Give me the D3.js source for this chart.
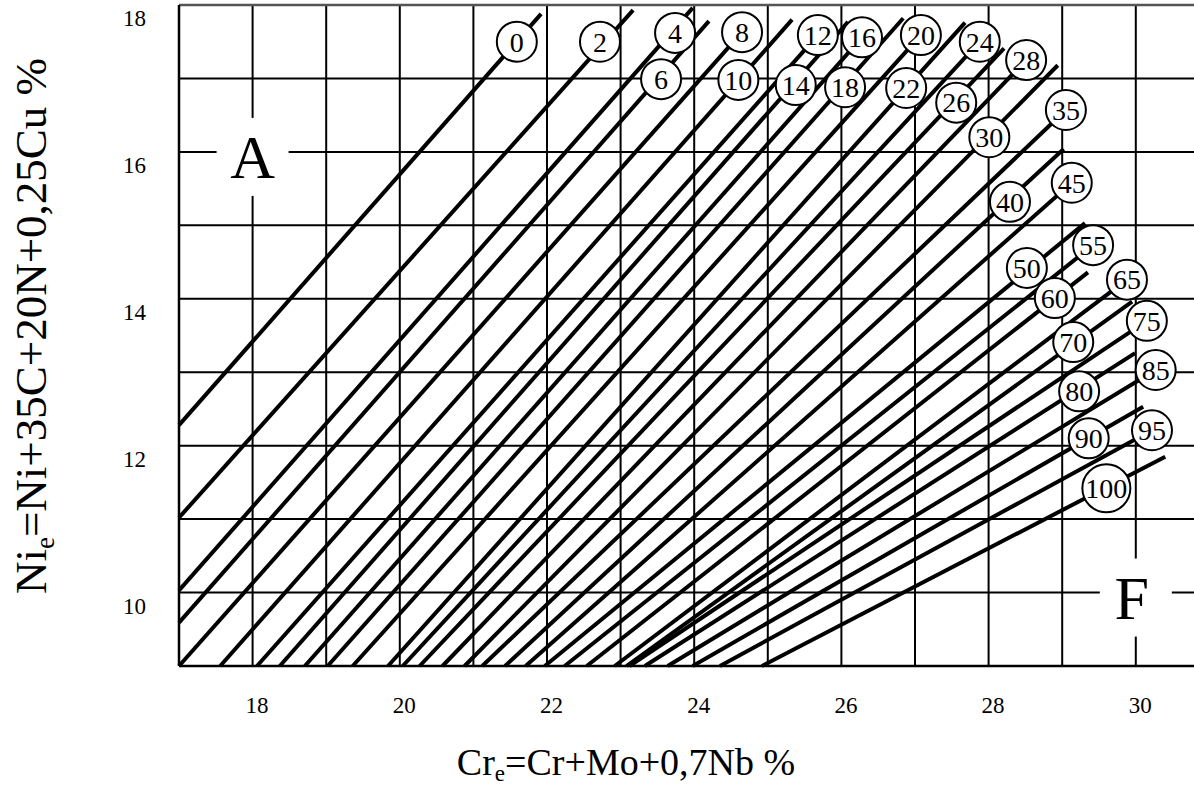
<!DOCTYPE html>
<html>
<head>
<meta charset="utf-8">
<script src="https://cdn.jsdelivr.net/npm/d3@7"></script>
<style>
body { margin: 0; background: #fff; }
svg { display: block; }
</style>
</head>
<body>
<script>
var w = 1194; // Width of the page
var h = 786;  // Height of the page
var serif = "'Liberation Serif', 'Times New Roman', serif";

// Ferrite lines: label, start and end points in data units, label circle position
var lineLabels = [0, 2, 4, 6, 8, 10, 12, 14, 16, 18, 20, 22, 24, 26, 28, 30, 35, 40, 45, 50, 55, 60, 65, 70, 75, 80, 85, 90, 95, 100];
var startX = [17, 17, 17, 17, 17, 17.56, 18.06, 18.37, 18.71, 19.02, 19.36, 19.84, 20.04, 20.27, 20.58, 20.88, 21.12, 21.43, 21.71, 21.97, 22.24, 22.54, 22.92, 23.08, 23.12, 23.33, 23.64, 23.98, 24.35, 24.92];
var startY = [12.28, 11.02, 10.03, 9.59, 9, 9, 9, 9, 9, 9, 9, 9, 9, 9, 9, 9, 9, 9, 9, 9, 9, 9, 9, 9, 9, 9, 9, 9, 9, 9];
var endX = [21.92, 23.17, 23.98, 24.20, 24.65, 25.33, 25.68, 26.09, 26.28, 26.84, 27.08, 27.68, 27.88, 28.21, 28.51, 28.94, 29.05, 29.02, 29.13, 29.31, 29.42, 29.35, 29.88, 29.95, 30.15, 29.99, 30.27, 30.10, 30.22, 30.40];
var endY = [17.88, 17.93, 17.96, 17.78, 17.63, 17.80, 17.59, 17.77, 17.56, 17.82, 17.59, 17.76, 17.50, 17.41, 17.25, 17.18, 16.57, 16.04, 15.58, 15.03, 14.73, 14.36, 14.26, 13.96, 13.70, 13.26, 13.03, 12.53, 12.21, 11.85];
var labelX = [21.59, 22.72, 23.74, 23.55, 24.65, 24.60, 25.68, 25.38, 26.28, 26.05, 27.08, 26.88, 27.88, 27.56, 28.51, 28.01, 29.05, 28.29, 29.13, 28.52, 29.42, 28.90, 29.88, 29.15, 30.15, 29.23, 30.27, 29.36, 30.22, 29.60];
var labelY = [17.50, 17.50, 17.62, 16.99, 17.63, 16.98, 17.59, 16.91, 17.56, 16.88, 17.59, 16.87, 17.50, 16.67, 17.25, 16.20, 16.57, 15.32, 15.58, 14.42, 14.73, 14.01, 14.26, 13.41, 13.70, 12.74, 13.03, 12.10, 12.21, 11.42];

// Phase regions
var zoneNames = ["A", "F"];
var zoneX = [18, 30];
var zoneY = [16, 10];

// Tick labels
var xTicks = [18, 20, 22, 24, 26, 28, 30];
var yTicks = [10, 12, 14, 16, 18];

// Scales
var xScale = d3.scaleLinear()
    .domain([17, 31])
    .range([179, 179 + 14 * 73.6]);

var yScale = d3.scaleLinear()
    .domain([9, 18])
    .range([666, 5]);

var svg = d3.select("body")
    .append("svg")
    .attr("width", w)
    .attr("height", h)
    .style("font-family", serif);

// Grid lines
var grid = svg.append("g")
    .attr("stroke", "#000")
    .attr("stroke-width", 2);

grid.selectAll("line.v")
    .data(d3.range(18, 31))
    .join("line")
    .attr("class", "v")
    .attr("x1", function(d) { return xScale(d); })
    .attr("x2", function(d) { return xScale(d); })
    .attr("y1", yScale(18))
    .attr("y2", yScale(9));

grid.selectAll("line.h")
    .data(d3.range(10, 18))
    .join("line")
    .attr("class", "h")
    .attr("x1", xScale(17))
    .attr("x2", w)
    .attr("y1", function(d) { return yScale(d); })
    .attr("y2", function(d) { return yScale(d); });

// Frame
svg.append("line")
    .attr("x1", xScale(17)).attr("x2", w)
    .attr("y1", yScale(18)).attr("y2", yScale(18))
    .attr("stroke", "#555").attr("stroke-width", 2.5);
svg.append("line")
    .attr("x1", xScale(17)).attr("x2", w)
    .attr("y1", yScale(9)).attr("y2", yScale(9))
    .attr("stroke", "#000").attr("stroke-width", 2.5);
svg.append("line")
    .attr("x1", xScale(17)).attr("x2", xScale(17))
    .attr("y1", yScale(18)).attr("y2", yScale(9))
    .attr("stroke", "#000").attr("stroke-width", 2.5);

// Region letters with white boxes breaking the grid
var zones = svg.append("g");
zones.selectAll("rect")
    .data(zoneNames)
    .join("rect")
    .attr("x", function(d, i) { return xScale(zoneX[i]) - 36; })
    .attr("y", function(d, i) { return yScale(zoneY[i]) - 34; })
    .attr("width", 72)
    .attr("height", 78)
    .attr("fill", "#fff");
zones.selectAll("text")
    .data(zoneNames)
    .join("text")
    .attr("x", function(d, i) { return xScale(zoneX[i]) - (i ? 4 : 0); })
    .attr("y", function(d, i) { return yScale(zoneY[i]) + 26; })
    .attr("text-anchor", "middle")
    .attr("font-size", 62)
    .text(function(d) { return d; });

// Ferrite lines
svg.append("g")
    .attr("stroke", "#000")
    .attr("stroke-width", 4)
    .selectAll("line")
    .data(lineLabels)
    .join("line")
    .attr("x1", function(d, i) { return xScale(startX[i]); })
    .attr("y1", function(d, i) { return yScale(startY[i]); })
    .attr("x2", function(d, i) { return xScale(endX[i]); })
    .attr("y2", function(d, i) { return yScale(endY[i]); });

// Label circles
var tags = svg.append("g")
    .selectAll("g")
    .data(lineLabels)
    .join("g")
    .attr("transform", function(d, i) {
        return "translate(" + xScale(labelX[i]) + "," + yScale(labelY[i]) + ")";
    });
tags.append("circle")
    .attr("r", function(d) { return d >= 100 ? 24 : 20; })
    .attr("fill", "#fff")
    .attr("stroke", "#000")
    .attr("stroke-width", 2);
tags.append("text")
    .attr("text-anchor", "middle")
    .attr("dy", "0.35em")
    .attr("font-size", 28)
    .text(function(d) { return d; });

// Axes (labels only)
var xAxis = d3.axisBottom(xScale)
    .tickValues(xTicks)
    .tickSize(0)
    .tickPadding(31);
svg.append("g")
    .attr("transform", "translate(0," + yScale(9) + ")")
    .call(xAxis)
    .call(function(g) { g.select(".domain").remove(); })
    .attr("font-family", serif)
    .attr("font-size", 23)
    .selectAll("text")
    .attr("fill", "#000")
    .attr("dx", 4);

var yAxis = d3.axisLeft(yScale)
    .tickValues(yTicks)
    .tickSize(0)
    .tickPadding(33);
svg.append("g")
    .attr("transform", "translate(" + xScale(17) + ",0)")
    .call(yAxis)
    .call(function(g) { g.select(".domain").remove(); })
    .attr("font-family", serif)
    .attr("font-size", 23)
    .selectAll("text")
    .attr("fill", "#000")
    .attr("dy", "0.9em");

// Axis titles
var xTitle = svg.append("text")
    .attr("x", 626)
    .attr("y", 775)
    .attr("text-anchor", "middle")
    .attr("font-size", 38);
xTitle.append("tspan").text("Cr");
xTitle.append("tspan").attr("font-size", 23).attr("dy", 6).text("e");
xTitle.append("tspan").attr("dy", -6).text("=Cr+Mo+0,7Nb %");

var yTitle = svg.append("text")
    .attr("transform", "translate(46,326) rotate(-90)")
    .attr("text-anchor", "middle")
    .attr("font-size", 45);
yTitle.append("tspan").text("Ni");
yTitle.append("tspan").attr("font-size", 27).attr("dy", 8).text("e");
yTitle.append("tspan").attr("dy", -8).text("=Ni+35C+20N+0,25Cu %");
</script>
</body>
</html>
